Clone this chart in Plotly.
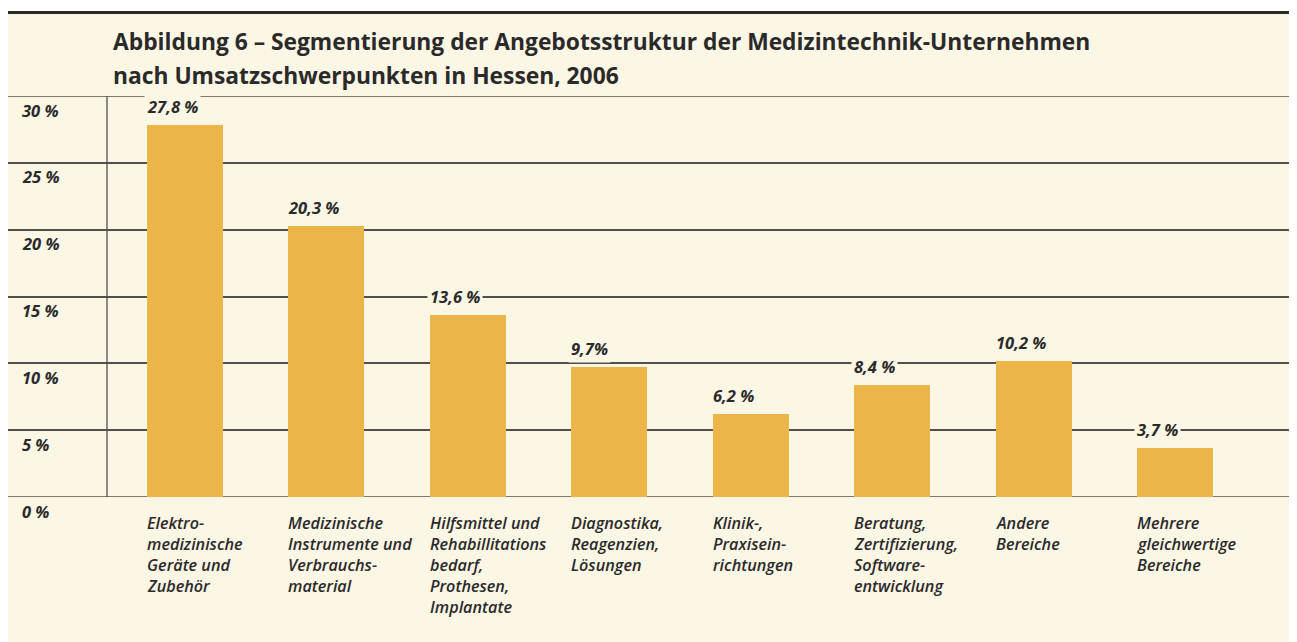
import plotly.graph_objects as go

categories = [
    ["Elektro-", "medizinische", "Geräte und", "Zubehör"],
    ["Medizinische", "Instrumente und", "Verbrauchs-", "material"],
    ["Hilfsmittel und", "Rehabillitations", "bedarf,", "Prothesen,", "Implantate"],
    ["Diagnostika,", "Reagenzien,", "Lösungen"],
    ["Klinik-,", "Praxisein-", "richtungen"],
    ["Beratung,", "Zertifizierung,", "Software-", "entwicklung"],
    ["Andere", "Bereiche"],
    ["Mehrere", "gleichwertige", "Bereiche"],
]
values = [27.8, 20.3, 13.6, 9.7, 6.2, 8.4, 10.2, 3.7]
value_labels = ["27,8 %", "20,3 %", "13,6 %", "9,7%", "6,2 %", "8,4 %", "10,2 %", "3,7 %"]
y_ticks = [0, 5, 10, 15, 20, 25, 30]
y_tick_labels = ["0 %", "5 %", "10 %", "15 %", "20 %", "25 %", "30 %"]
title_lines = [
    "Abbildung 6 – Segmentierung der Angebotsstruktur der Medizintechnik-Unternehmen",
    "nach Umsatzschwerpunkten in Hessen, 2006",
]

CREAM = "#fcf6e5"
BAR = "#ebb54a"
TEXT = "#2a2a2a"
GRID = "#52504b"
FONT = "Open Sans"
BAR_W = 0.537
PLOT_H = 401.0  # plot-area height in px, used for paper offsets

xs = list(range(len(values)))

fig = go.Figure()
fig.add_trace(go.Bar(
    x=xs, y=values, width=BAR_W, marker=dict(color=BAR, line=dict(width=0)),
    hoverinfo="skip",
))

annotations = []
# value labels
for x, v, lab in zip(xs, values, value_labels):
    annotations.append(dict(
        x=x - BAR_W / 2, y=v, xref="x", yref="y", text=lab, showarrow=False,
        xanchor="left", yanchor="bottom", yshift=4, xshift=-3,
        bgcolor=CREAM, borderpad=2,
        font=dict(family=FONT, size=16.5, color=TEXT, style="italic", weight=700),
    ))
# category labels, one annotation per line for tight line spacing
for x, lines in zip(xs, categories):
    for i, line in enumerate(lines):
        annotations.append(dict(
            x=x - BAR_W / 2, y=0, xref="x", yref="y", text=line, showarrow=False,
            xanchor="left", yanchor="middle", yshift=-26 - 21 * i, xshift=-2,
            font=dict(family=FONT, size=16.2, color=TEXT, style="italic", weight=600),
        ))
# y tick labels (below gridlines)
for t, lab in zip(y_ticks, y_tick_labels):
    annotations.append(dict(
        x=14 / 1285, y=t, xref="paper", yref="y", text=lab, showarrow=False,
        xanchor="left", yanchor="middle", yshift=-14, xshift=-2,
        font=dict(family=FONT, size=16.5, color=TEXT, style="italic", weight=700),
    ))
# title lines
for i, line in enumerate(title_lines):
    annotations.append(dict(
        x=105 / 1285, y=1 + (88 - 34 - 33 * i) / PLOT_H, xref="paper", yref="paper",
        text=line, showarrow=False, xanchor="left", yanchor="middle", xshift=-2,
        font=dict(family=FONT, size=22.8, color=TEXT, weight=700),
    ))

shapes = [
    # white strip above top rule
    dict(type="rect", xref="paper", yref="paper", x0=-0.01, x1=1.01,
         y0=1 + 85 / PLOT_H, y1=1 + 92 / PLOT_H,
         fillcolor="white", line=dict(width=0), layer="below"),
    # dark top rule
    dict(type="line", xref="paper", yref="paper", x0=-0.01, x1=1.01,
         y0=1 + 83.5 / PLOT_H, y1=1 + 83.5 / PLOT_H,
         line=dict(color="#2b2b2b", width=3)),
    # top (30 %) and bottom (0 %) rules
    dict(type="line", xref="paper", yref="y", x0=0, x1=1, y0=30, y1=30,
         line=dict(color=GRID, width=1.5), layer="below"),
    dict(type="line", xref="paper", yref="y", x0=0, x1=1, y0=0, y1=0,
         line=dict(color=GRID, width=1.5), layer="below"),
    # vertical axis line
    dict(type="line", xref="x", yref="y", x0=-0.5515, x1=-0.5515, y0=0, y1=30,
         line=dict(color=GRID, width=1.3), layer="below"),
]

fig.update_layout(
    width=1286, height=634,
    margin=dict(l=0, r=1, t=88, b=145),
    paper_bgcolor=CREAM, plot_bgcolor=CREAM,
    showlegend=False,
    annotations=annotations,
    shapes=shapes,
    xaxis=dict(range=[-1.2515, 7.834], showticklabels=False, showgrid=False,
               zeroline=False, showline=False, fixedrange=True),
    yaxis=dict(range=[0, 30], tickvals=y_ticks, showticklabels=False,
               showgrid=True, gridcolor=GRID, gridwidth=1.5,
               zeroline=False, showline=False, fixedrange=True),
    bargap=0,
)

fig.write_html("out.html")
